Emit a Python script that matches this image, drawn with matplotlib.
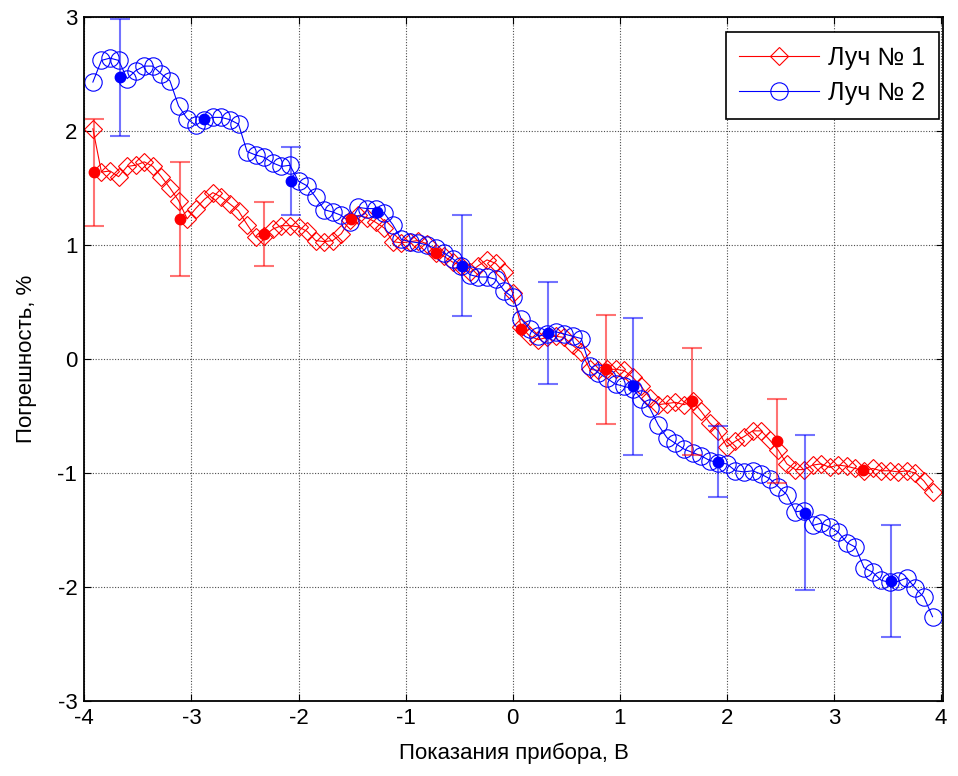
import numpy as np
from matplotlib import pyplot as plt

plt.rcParams['font.family'] = ['Liberation Sans', 'DejaVu Sans']
plt.rcParams['font.size'] = 16
plt.rcParams['axes.unicode_minus'] = False

# Beam 1 (red diamonds) readings
y_beam1 = [2.02, 1.64, 1.65, 1.60, 1.69, 1.70, 1.73, 1.69, 1.60, 1.50,
           1.39, 1.23, 1.32, 1.40, 1.46, 1.42, 1.36, 1.30, 1.18, 1.07,
           1.08, 1.14, 1.17, 1.17, 1.16, 1.12, 1.04, 1.03, 1.04, 1.10,
           1.22, 1.26, 1.24, 1.20, 1.15, 1.03, 1.02, 1.03, 1.04, 1.01,
           0.93, 0.90, 0.85, 0.82, 0.76, 0.82, 0.87, 0.84, 0.76, 0.58,
           0.28, 0.20, 0.17, 0.19, 0.20, 0.19, 0.12, 0.06, -0.09, -0.10,
           -0.09, -0.09, -0.10, -0.16, -0.24, -0.34, -0.40, -0.39, -0.38, -0.40,
           -0.37, -0.46, -0.56, -0.63, -0.77, -0.72, -0.68, -0.63, -0.63, -0.71,
           -0.80, -0.92, -0.97, -0.97, -0.93, -0.92, -0.95, -0.93, -0.94, -0.96,
           -0.98, -0.96, -0.98, -0.98, -0.99, -0.98, -1.00, -1.07, -1.17]

# Beam 2 (blue circles) readings
y_beam2 = [2.43, 2.62, 2.64, 2.62, 2.46, 2.53, 2.57, 2.57, 2.50, 2.44,
           2.22, 2.11, 2.05, 2.10, 2.12, 2.12, 2.10, 2.06, 1.82, 1.79,
           1.77, 1.72, 1.69, 1.70, 1.56, 1.52, 1.42, 1.31, 1.29, 1.26,
           1.20, 1.33, 1.32, 1.32, 1.28, 1.18, 1.05, 1.03, 1.02, 1.00,
           0.97, 0.93, 0.88, 0.82, 0.74, 0.72, 0.72, 0.70, 0.60, 0.54,
           0.35, 0.26, 0.20, 0.22, 0.24, 0.22, 0.20, 0.18, -0.06, -0.12,
           -0.17, -0.22, -0.24, -0.26, -0.35, -0.43, -0.58, -0.69, -0.74, -0.79,
           -0.82, -0.85, -0.89, -0.91, -0.92, -0.98, -0.99, -0.98, -1.01, -1.05,
           -1.12, -1.19, -1.34, -1.33, -1.46, -1.44, -1.47, -1.52, -1.61, -1.65,
           -1.83, -1.87, -1.94, -1.96, -1.95, -1.92, -2.01, -2.09, -2.26]

# Instrument readings grid, V
x_grid = np.linspace(-3.92, 3.92, len(y_beam1))

# Mean points with error bars
x_err1 = [-3.91, -3.11, -2.32, -1.51, -0.72, 0.08, 0.87, 1.67, 2.47, 3.27]
y_err1 = [1.64, 1.23, 1.10, 1.23, 0.93, 0.26, -0.09, -0.37, -0.72, -0.97]
e_err1 = [0.47, 0.50, 0.28, 0.0, 0.0, 0.0, 0.48, 0.47, 0.37, 0.0]

x_err2 = [-3.67, -2.88, -2.07, -1.27, -0.47, 0.33, 1.12, 1.92, 2.73, 3.53]
y_err2 = [2.47, 2.11, 1.56, 1.29, 0.82, 0.23, -0.24, -0.90, -1.35, -1.95]
e_err2 = [0.51, 0.0, 0.30, 0.0, 0.44, 0.45, 0.60, 0.31, 0.68, 0.49]

fig = plt.figure(figsize=(9.58, 7.76), dpi=100)
ax = fig.add_axes([0.088, 0.0966, 0.8966, 0.8814])

ax.plot(x_grid, y_beam1, '-', color='r', lw=0.8, marker='D', ms=9.2,
        mfc='none', mec='r', mew=0.8, label='Луч № 1')
ax.plot(x_grid, y_beam2, '-', color='b', lw=0.8, marker='o', ms=12.5,
        mfc='none', mec='b', mew=0.8, label='Луч № 2')

# error bars only where spread is known
for xs, ys, es, c in [(x_err1, y_err1, e_err1, 'r'), (x_err2, y_err2, e_err2, 'b')]:
    xs, ys, es = np.array(xs), np.array(ys), np.array(es)
    m = es > 0
    ax.errorbar(xs[m], ys[m], yerr=es[m], fmt='none', ecolor=c, alpha=0.55,
                elinewidth=1.5, capsize=7, capthick=1.5)
    ax.plot(xs, ys, 'o', color=c, ms=7.5, zorder=5)

ax.set_xlim(-4.0, 4.02)
ax.set_ylim(-3, 3)
ax.set_xticks(np.arange(-4, 5, 1))
ax.set_yticks(np.arange(-3, 4, 1))
ax.tick_params(direction='in', top=True, right=True, length=5, labelsize=16, pad=5)
ax.grid(True, color='0.3', linestyle=(0, (1, 1.5)), linewidth=0.8)
for s in ax.spines.values():
    s.set_linewidth(1.3)

ax.set_xlabel('Показания прибора, В', fontsize=16, labelpad=10)
ax.set_ylabel('Погрешность, %', fontsize=16, labelpad=15)

leg = ax.legend(loc='upper right', bbox_to_anchor=(0.995, 0.978), borderaxespad=0,
                fancybox=False, framealpha=1, edgecolor='k', fontsize=18,
                handlelength=3.2, borderpad=0.55, labelspacing=0.45, handletextpad=0.35)
leg.get_frame().set_linewidth(1.2)

fig.savefig('out.png', dpi=100)
